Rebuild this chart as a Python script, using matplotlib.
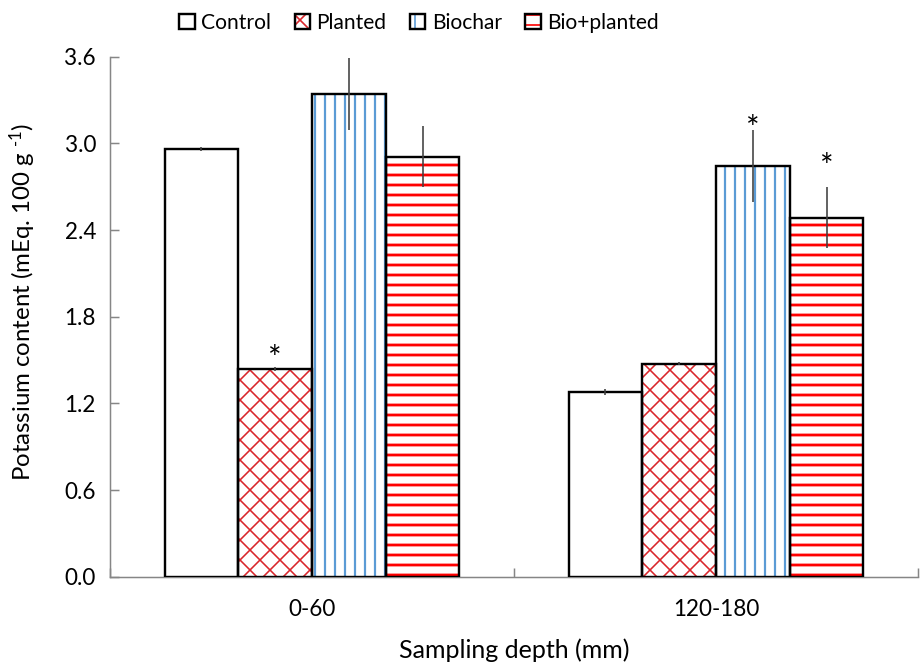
import matplotlib
matplotlib.use('Agg')
from matplotlib import pyplot as plt
from matplotlib.legend_handler import HandlerTuple
import numpy as np

# soil potassium by sampling depth and treatment
depths = ['0-60', '120-180']
treatments = ['Control', 'Planted', 'Biochar', 'Bio+planted']
potassium = {
    'Control': [2.963, 1.281],
    'Planted': [1.440, 1.475],
    'Biochar': [3.344, 2.845],
    'Bio+planted': [2.908, 2.485],
}
potassium_err = {
    'Control': [0.015, 0.02],
    'Planted': [0.015, 0.01],
    'Biochar': [0.25, 0.25],
    'Bio+planted': [0.21, 0.21],
}
# significance marks: (depth index, treatment, label height)
stars = [(0, 'Planted', 1.50), (1, 'Biochar', 3.09), (1, 'Bio+planted', 2.83)]

DPI = 120
PX = 72 / DPI  # points per pixel

plt.rcParams['font.family'] = ['Lato', 'DejaVu Sans']
plt.rcParams['mathtext.fontset'] = 'custom'
plt.rcParams['mathtext.rm'] = 'Lato'
plt.rcParams['mathtext.it'] = 'Lato:italic'

# hatch, hatch colour, hatch line width (px)
styles = {
    'Control': ('', 'white', 1.0),
    'Planted': ('xx', '#d9262b', 1.6),
    'Biochar': ('||', '#5b9bd5', 2.2),
    'Bio+planted': ('--', '#ff0000', 2.8),
}

fig = plt.figure(figsize=(921 / DPI, 664 / DPI), dpi=DPI)
ax = fig.add_axes([110 / 921, (664 - 576.7) / 664, 808 / 921, 520 / 664])

width = 0.1824
x = np.arange(len(depths))
handles = []
for i, t in enumerate(treatments):
    hatch, hcolor, hlw = styles[t]
    pos = x + (i - 1.5) * width
    with plt.rc_context({'hatch.linewidth': hlw * PX}):
        fill = ax.bar(pos, potassium[t], width, color='white',
                      edgecolor=hcolor, hatch=hatch, linewidth=0, zorder=2)
    outline = ax.bar(pos, potassium[t], width, fill=False,
                     edgecolor='black', linewidth=2.4 * PX, zorder=3)
    for p in fill.patches:
        if hasattr(p, 'set_hatch_linewidth'):
            p.set_hatch_linewidth(hlw * PX)
    ax.errorbar(pos, potassium[t], yerr=potassium_err[t], fmt='none',
                ecolor='#404040', elinewidth=1.6 * PX, capsize=0, zorder=4)
    handles.append((fill.patches[0], outline.patches[0]))

for d, t, y in stars:
    i = treatments.index(t)
    ax.text(x[d] + (i - 1.5) * width, y, '*', ha='center', va='center',
            fontsize=32 * PX, zorder=5)

ax.set_xlim(-0.5, 1.5)
ax.set_ylim(0, 3.6)
ax.set_yticks(np.arange(0, 3.61, 0.6))
ax.set_yticklabels([f'{v:.1f}' for v in np.arange(0, 3.61, 0.6)])
ax.set_xticks(x)
ax.set_xticklabels(depths)
ax.set_xticks([-0.5, 0.5, 1.5], minor=True)

for s in ['top', 'right']:
    ax.spines[s].set_visible(False)
for s in ['left', 'bottom']:
    ax.spines[s].set_color('#868686')
    ax.spines[s].set_linewidth(1.5 * PX)

ax.tick_params(axis='y', direction='in', length=9 * PX, width=1.5 * PX,
               color='#868686', pad=14 * PX, labelsize=22.5 * PX)
ax.tick_params(axis='x', which='major', length=0, pad=22 * PX,
               labelsize=22.5 * PX)
ax.tick_params(axis='x', which='minor', direction='in', length=9 * PX,
               width=1.5 * PX, color='#868686')

ax.set_xlabel('Sampling depth (mm)', fontsize=25 * PX)
ax.xaxis.set_label_coords(0.5, -0.118)
ax.set_ylabel(r'Potassium content (mEq. 100 g $^{\text{-1}}$)', fontsize=24 * PX)
ax.yaxis.set_label_coords(-0.089, 0.528)

fig.legend(handles, treatments, handler_map={tuple: HandlerTuple(ndivide=1, pad=0)},
           loc='center', bbox_to_anchor=(419 / 921, 1 - 23 / 664),
           ncol=4, frameon=False, fontsize=21 * PX, handlelength=0.75,
           handleheight=0.75, handletextpad=0.3, columnspacing=1.1,
           borderpad=0)

fig.savefig('out.png', dpi=DPI)
